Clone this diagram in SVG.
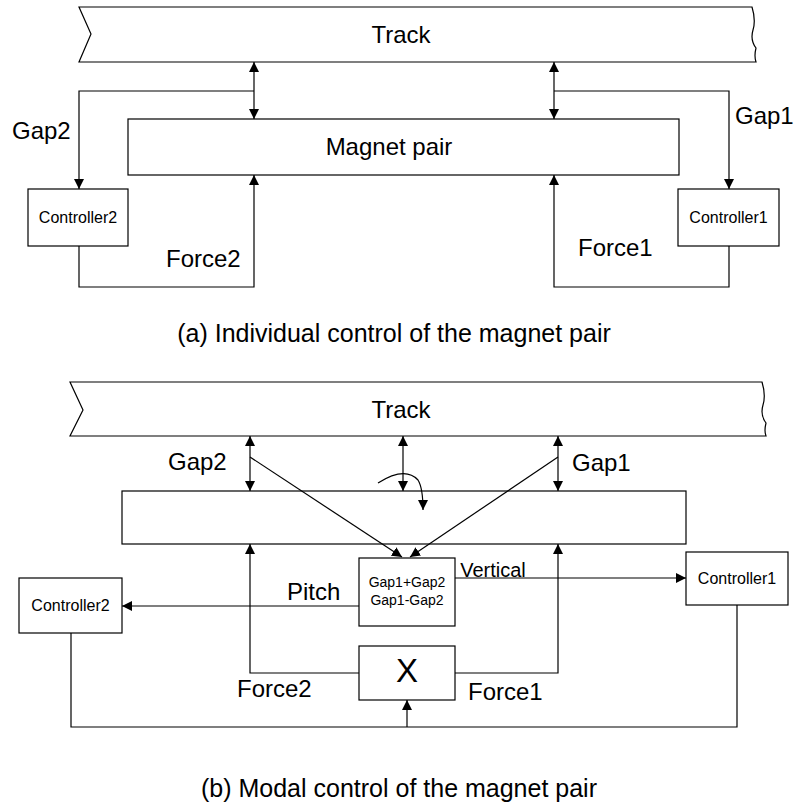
<svg xmlns="http://www.w3.org/2000/svg" width="797" height="803" viewBox="0 0 797 803">
<style>
text{font-family:"Liberation Sans",Arial,sans-serif;fill:#000}
.box{fill:#fff;stroke:#000;stroke-width:1.2}
.ln{fill:none;stroke:#000;stroke-width:1.2}
.big{font-size:24px}
.cap{font-size:25px}
.sm{font-size:16px}
.xs{font-size:14px}
.c{text-anchor:middle}
</style>
<defs>
<marker id="ah" viewBox="0 0 10 10" refX="10" refY="5" markerWidth="10" markerHeight="10" markerUnits="userSpaceOnUse" orient="auto-start-reverse">
<path d="M0,0 L10,5 L0,10 z" fill="#000"/>
</marker>
</defs>
<rect width="797" height="803" fill="#fff"/>

<!-- (a) -->
<g id="track-a">
<path class="box" d="M79,7 H752 Q756,20 753,30 Q750,40 756,48 Q754,56 756,62 H79 L91,34 Z"/>
<text class="big c" x="401" y="43">Track</text>
</g>
<g id="magnet-a">
<rect class="box" x="128" y="119" width="551" height="56"/>
<text class="big c" x="389" y="155">Magnet pair</text>
</g>
<g id="controller2-a">
<rect class="box" x="28" y="189" width="100" height="57"/>
<text class="sm c" x="78" y="223">Controller2</text>
</g>
<g id="controller1-a">
<rect class="box" x="678" y="189" width="101" height="57"/>
<text class="sm c" x="728.5" y="223">Controller1</text>
</g>
<g id="connectors-a">
<line class="ln" x1="254" y1="62" x2="254" y2="119" marker-start="url(#ah)" marker-end="url(#ah)"/>
<line class="ln" x1="554" y1="62" x2="554" y2="119" marker-start="url(#ah)" marker-end="url(#ah)"/>
<polyline class="ln" points="254,91 79,91 79,189" marker-end="url(#ah)"/>
<polyline class="ln" points="554,91 729,91 729,189" marker-end="url(#ah)"/>
<polyline class="ln" points="79,246 79,287 254,287 254,175" marker-end="url(#ah)"/>
<polyline class="ln" points="729,246 729,287 554,287 554,175" marker-end="url(#ah)"/>
</g>
<g id="labels-a">
<text class="big" x="12" y="139">Gap2</text>
<text class="big" x="735" y="124">Gap1</text>
<text class="big" x="166" y="267">Force2</text>
<text class="big" x="578" y="256">Force1</text>
<text class="cap c" x="394" y="342">(a) Individual control of the magnet pair</text>
</g>

<!-- (b) -->
<g id="track-b">
<path class="box" d="M70,382 H762 Q766,395 763,405 Q760,415 766,423 Q764,431 766,436 H70 L83,410 Z"/>
<text class="big c" x="401" y="418">Track</text>
</g>
<g id="magnet-b">
<rect class="box" x="122" y="491" width="564" height="53"/>
</g>
<g id="sum-b">
<rect class="box" x="359" y="558" width="96" height="68"/>
<text class="xs c" x="407" y="587">Gap1+Gap2</text>
<text class="xs c" x="407" y="605">Gap1-Gap2</text>
</g>
<g id="mult-b">
<rect class="box" x="359" y="646" width="96" height="54"/>
<text class="c" x="407" y="682" font-size="33">X</text>
</g>
<g id="controller2-b">
<rect class="box" x="19" y="578" width="103" height="55"/>
<text class="sm c" x="70.5" y="611">Controller2</text>
</g>
<g id="controller1-b">
<rect class="box" x="686" y="552" width="102" height="53"/>
<text class="sm c" x="737" y="584">Controller1</text>
</g>
<g id="connectors-b">
<line class="ln" x1="250" y1="436" x2="250" y2="491" marker-start="url(#ah)" marker-end="url(#ah)"/>
<line class="ln" x1="403" y1="436" x2="403" y2="491" marker-start="url(#ah)" marker-end="url(#ah)"/>
<line class="ln" x1="558" y1="436" x2="558" y2="491" marker-start="url(#ah)" marker-end="url(#ah)"/>
<line class="ln" x1="250" y1="457" x2="402" y2="557" marker-end="url(#ah)"/>
<line class="ln" x1="558" y1="457" x2="410" y2="557" marker-end="url(#ah)"/>
<path class="ln" d="M378,483 Q405,466 418,480 Q423,488 423,510" marker-end="url(#ah)"/>
<line class="ln" x1="359" y1="606" x2="122" y2="606" marker-end="url(#ah)"/>
<line class="ln" x1="455" y1="578" x2="686" y2="578" marker-end="url(#ah)"/>
<polyline class="ln" points="359,673 250,673 250,544" marker-end="url(#ah)"/>
<polyline class="ln" points="455,673 558,673 558,544" marker-end="url(#ah)"/>
<polyline class="ln" points="71,633 71,727 737,727 737,605"/>
<line class="ln" x1="407" y1="727" x2="407" y2="700" marker-end="url(#ah)"/>
</g>
<g id="labels-b">
<text class="big" x="168" y="470">Gap2</text>
<text class="big" x="572" y="471">Gap1</text>
<text class="big" x="287" y="600">Pitch</text>
<text class="c" x="493" y="577" font-size="20">Vertical</text>
<text class="big" x="237" y="697">Force2</text>
<text class="big" x="468" y="700">Force1</text>
<text class="cap c" x="399" y="797">(b) Modal control of the magnet pair</text>
</g>
</svg>
